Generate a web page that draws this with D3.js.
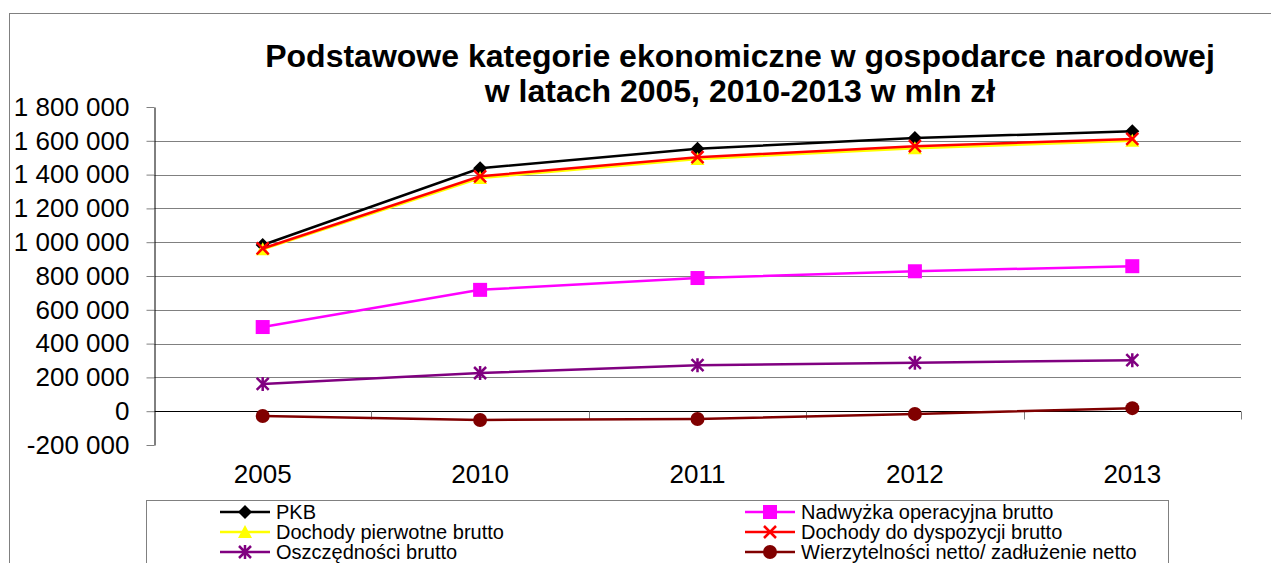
<!DOCTYPE html>
<html>
<head>
<meta charset="utf-8">
<script src="https://cdn.jsdelivr.net/npm/d3@7"></script>
<style>
  body { margin: 0; background: #fff; }
  svg { display: block; font-family: "Liberation Sans", Arial, sans-serif; }
</style>
</head>
<body>
<svg id="chart"></svg>
<script>
// data
var years = ["2005", "2010", "2011", "2012", "2013"];
var pkb = [983302, 1437357, 1553582, 1615894, 1656342];
var nadwyzka = [498000, 718000, 788000, 828000, 858000];
var dochPierwotne = [958000, 1380000, 1492000, 1556000, 1600000];
var dochDyspozycji = [963000, 1390000, 1503000, 1568000, 1611000];
var oszczednosci = [161000, 226000, 272000, 286000, 302000];
var wierzytelnosci = [-28000, -52000, -46000, -16000, 18000];
var yTicks = [-200000, 0, 200000, 400000, 600000, 800000, 1000000, 1200000, 1400000, 1600000, 1800000];

var series = [
  {name: "PKB", values: pkb, color: "#000000", marker: "diamond"},
  {name: "Nadwyżka operacyjna brutto", values: nadwyzka, color: "#ff00ff", marker: "square"},
  {name: "Dochody pierwotne brutto", values: dochPierwotne, color: "#ffff00", marker: "triangle"},
  {name: "Dochody do dyspozycji brutto", values: dochDyspozycji, color: "#ff0000", marker: "x"},
  {name: "Oszczędności brutto", values: oszczednosci, color: "#800080", marker: "star"},
  {name: "Wierzytelności netto/ zadłużenie netto", values: wierzytelnosci, color: "#800000", marker: "circle"}
];

var width = 1271, height = 563;
var svg = d3.select("#chart").attr("width", width).attr("height", height);

// outer frame
svg.append("rect")
   .attr("x", 9.5).attr("y", 13.5)
   .attr("width", 1300).attr("height", 600)
   .attr("fill", "none").attr("stroke", "#808080").attr("stroke-width", 1);

// title
var title = svg.append("text")
   .attr("text-anchor", "middle")
   .attr("font-weight", "bold")
   .attr("font-size", 32)
   .attr("fill", "#000");
title.append("tspan").attr("x", 740).attr("y", 67).text("Podstawowe kategorie ekonomiczne w gospodarce narodowej");
title.append("tspan").attr("x", 740).attr("y", 102).text("w latach 2005, 2010-2013 w mln zł");

var plotLeft = 154, plotRight = 1241, plotTop = 107, plotBottom = 445;

var x = d3.scaleBand().domain(years).range([plotLeft, plotRight]).padding(0);
var y = d3.scaleLinear().domain([-200000, 1800000]).range([plotBottom, plotTop]);

var loc = d3.formatLocale({decimal: ",", thousands: " ", grouping: [3], currency: ["", ""], minus: "-"});
var fmt = loc.format(",d");

// gridlines
svg.selectAll("line.grid")
   .data(yTicks.filter(function(d){ return d > 0 && d < 1800000; }))
   .enter()
   .append("line")
   .attr("class", "grid")
   .attr("x1", plotLeft).attr("x2", plotRight)
   .attr("y1", function(d){ return Math.round(y(d)) + 0.5; })
   .attr("y2", function(d){ return Math.round(y(d)) + 0.5; })
   .attr("stroke", "#808080").attr("stroke-width", 1);

// y axis
var yAxis = svg.append("g")
   .attr("transform", "translate(" + (plotLeft + 0.5) + ",0)")
   .call(d3.axisLeft(y).tickValues(yTicks).tickFormat(fmt).tickSize(8).tickPadding(17).tickSizeOuter(0));
yAxis.select(".domain").attr("stroke", "#000");
yAxis.selectAll(".tick line").attr("stroke", "#808080");
yAxis.selectAll(".tick text").attr("font-size", 26).attr("fill", "#000").attr("font-family", "Liberation Sans, Arial, sans-serif");

// x axis at zero (ticks between categories)
var zeroY = Math.round(y(0)) + 0.5;
var bounds = years.map(function(d){ return x(d); }).concat([plotRight]);
svg.append("line")
   .attr("x1", plotLeft).attr("x2", plotRight)
   .attr("y1", zeroY).attr("y2", zeroY)
   .attr("stroke", "#000").attr("stroke-width", 1);
svg.selectAll("line.xtick")
   .data(bounds)
   .enter()
   .append("line")
   .attr("class", "xtick")
   .attr("x1", function(d){ return Math.round(d) + 0.5; })
   .attr("x2", function(d){ return Math.round(d) + 0.5; })
   .attr("y1", zeroY).attr("y2", zeroY + 8)
   .attr("stroke", "#808080");

// category labels (low position)
var xAxis = svg.append("g")
   .attr("transform", "translate(0," + plotBottom + ")")
   .call(d3.axisBottom(x).tickSize(0).tickPadding(20));
xAxis.select(".domain").remove();
xAxis.selectAll(".tick text").attr("font-size", 26).attr("fill", "#000").attr("font-family", "Liberation Sans, Arial, sans-serif");

// marker drawing
function drawMarker(g, type, color) {
  if (type === "diamond") {
    g.append("path").attr("d", "M0,-7L7,0L0,7L-7,0Z").attr("fill", color);
  } else if (type === "square") {
    g.append("rect").attr("x", -7).attr("y", -7).attr("width", 14).attr("height", 14).attr("fill", color);
  } else if (type === "triangle") {
    g.append("path").attr("d", "M0,-7L7,6L-7,6Z").attr("fill", color);
  } else if (type === "x") {
    g.append("path").attr("d", "M-6,-6L6,6M-6,6L6,-6").attr("stroke", color).attr("stroke-width", 2.5);
  } else if (type === "star") {
    g.append("path").attr("d", "M-6,-6L6,6M-6,6L6,-6M0,-7L0,7").attr("stroke", color).attr("stroke-width", 2.5);
  } else if (type === "circle") {
    g.append("circle").attr("r", 7).attr("fill", color);
  }
}

var line = d3.line()
   .x(function(d, i){ return x(years[i]) + x.bandwidth() / 2; })
   .y(function(d){ return y(d); });

series.forEach(function(s) {
  svg.append("path")
     .attr("d", line(s.values))
     .attr("fill", "none")
     .attr("stroke", s.color)
     .attr("stroke-width", 2.5);
  s.values.forEach(function(v, i) {
    var g = svg.append("g")
       .attr("transform", "translate(" + (x(years[i]) + x.bandwidth() / 2) + "," + y(v) + ")");
    drawMarker(g, s.marker, s.color);
  });
});

// legend
svg.append("rect")
   .attr("x", 146.5).attr("y", 500.5)
   .attr("width", 1022).attr("height", 100)
   .attr("fill", "#fff").attr("stroke", "#808080");

var colX = [220, 745];
series.forEach(function(s, i) {
  var cx = colX[i % 2];
  var cy = 512 + Math.floor(i / 2) * 20;
  var g = svg.append("g");
  g.append("line")
   .attr("x1", cx).attr("x2", cx + 50)
   .attr("y1", cy).attr("y2", cy)
   .attr("stroke", s.color).attr("stroke-width", 2.5);
  var m = g.append("g").attr("transform", "translate(" + (cx + 25) + "," + cy + ")");
  drawMarker(m, s.marker, s.color);
  g.append("text")
   .attr("x", cx + 56).attr("y", cy + 7)
   .attr("font-size", 20)
   .attr("fill", "#000")
   .text(s.name);
});
</script>
</body>
</html>
